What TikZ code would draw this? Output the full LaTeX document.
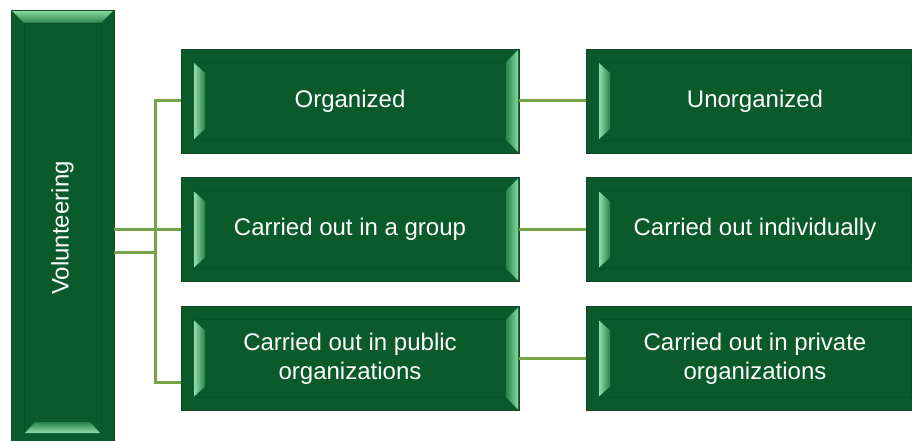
\documentclass[tikz,border=0pt]{standalone}
\usepackage{fontspec}
\setmainfont{Liberation Sans}
\usetikzlibrary{calc}
\definecolor{boxfill}{RGB}{11,90,44}
\definecolor{boxedge}{RGB}{20,70,40}
\definecolor{bevlight}{RGB}{135,218,160}
\definecolor{bevmid}{RGB}{40,130,74}
\definecolor{lnk}{RGB}{118,162,72}
\tikzset{
  base/.style={draw=boxedge, line width=0.8pt, fill=boxfill, text=white,
    font=\fontsize{24}{29}\selectfont, align=center, inner sep=0pt,
    minimum width=338pt, minimum height=104pt},
  hbox/.style={base, path picture={
    \path (path picture bounding box.north west) coordinate (bnw)
          (path picture bounding box.north east) coordinate (bne)
          (path picture bounding box.south west) coordinate (bsw)
          (path picture bounding box.south east) coordinate (bse);
    \draw[boxfill!90!black, line width=0.4pt] ($(bnw)+(13pt,-13pt)$) rectangle ($(bse)+(-13pt,13pt)$);
    \shade[left color=bevmid, right color=bevlight]
      ($(bne)+(-1pt,-1pt)$) -- ($(bse)+(-1pt,1pt)$) -- ($(bse)+(-13pt,13pt)$) -- ($(bne)+(-13pt,-13pt)$) -- cycle;
    \shade[left color=bevlight!90!white, right color=bevmid]
      ($(bnw)+(13pt,-14pt)$) -- ($(bsw)+(13pt,14pt)$) -- ($(bsw)+(24pt,24pt)$) -- ($(bnw)+(24pt,-24pt)$) -- cycle;
  }},
  hboxnr/.style={base, path picture={
    \path (path picture bounding box.north west) coordinate (bnw)
          (path picture bounding box.south west) coordinate (bsw)
          (path picture bounding box.south east) coordinate (bse);
    \draw[boxfill!90!black, line width=0.4pt] ($(bnw)+(13pt,-13pt)$) rectangle ($(bse)+(-13pt,13pt)$);
    \shade[left color=bevlight!90!white, right color=bevmid]
      ($(bnw)+(13pt,-14pt)$) -- ($(bsw)+(13pt,14pt)$) -- ($(bsw)+(24pt,24pt)$) -- ($(bnw)+(24pt,-24pt)$) -- cycle;
  }},
  vbox/.style={base, minimum width=103pt, minimum height=436pt, path picture={
    \path (path picture bounding box.north west) coordinate (bnw)
          (path picture bounding box.north east) coordinate (bne)
          (path picture bounding box.south west) coordinate (bsw)
          (path picture bounding box.south east) coordinate (bse);
    \draw[boxfill!90!black, line width=0.4pt] ($(bnw)+(13pt,-13pt)$) rectangle ($(bse)+(-13pt,13pt)$);
    \shade[bottom color=bevmid, top color=bevlight]
      ($(bnw)+(1pt,-1pt)$) -- ($(bne)+(-1pt,-1pt)$) -- ($(bne)+(-13pt,-13pt)$) -- ($(bnw)+(13pt,-13pt)$) -- cycle;
    \shade[bottom color=bevlight!90!white, top color=bevmid]
      ($(bsw)+(14pt,13pt)$) -- ($(bse)+(-14pt,13pt)$) -- ($(bse)+(-24pt,24pt)$) -- ($(bsw)+(24pt,24pt)$) -- cycle;
  }},
  vtext/.style={text=white, font=\fontsize{24}{29}\selectfont, inner sep=0pt, rotate=90},
  link/.style={draw=lnk, line width=3pt}
}
\begin{document}
\begin{tikzpicture}[x=1pt,y=-1pt]
\useasboundingbox (0,0) rectangle (912,441);
\clip (0,0) rectangle (912,441);
\node[vbox] (V) at (62.5,228) {};
\node[vtext] (Vt) at (V.center) {Volunteering};
\node[hbox] (O) at (350,101) {Organized};
\node[hbox] (G) at (350,229.5) {Carried out in a group};
\node[hbox] (P) at (350,358.5) {Carried out in public\\organizations};
\node[hboxnr] (U) at (755,101) {Unorganized};
\node[hboxnr] (I) at (755,229.5) {Carried out individually};
\node[hboxnr] (R) at (755,358.5) {Carried out in private\\organizations};
\coordinate (j) at (155,252);
\coordinate (pb) at (155,382);
\draw[link] (V.east |- G.west) -- (G.west);
\draw[link] (V.east |- j) -- (j);
\draw[link] (O.west) -| (j);
\draw[link] (P.west |- pb) -- (pb) -- (j);
\draw[link] (O.east) -- (U.west);
\draw[link] (G.east) -- (I.west);
\draw[link] (P.east) -- (R.west);
\end{tikzpicture}
\end{document}
